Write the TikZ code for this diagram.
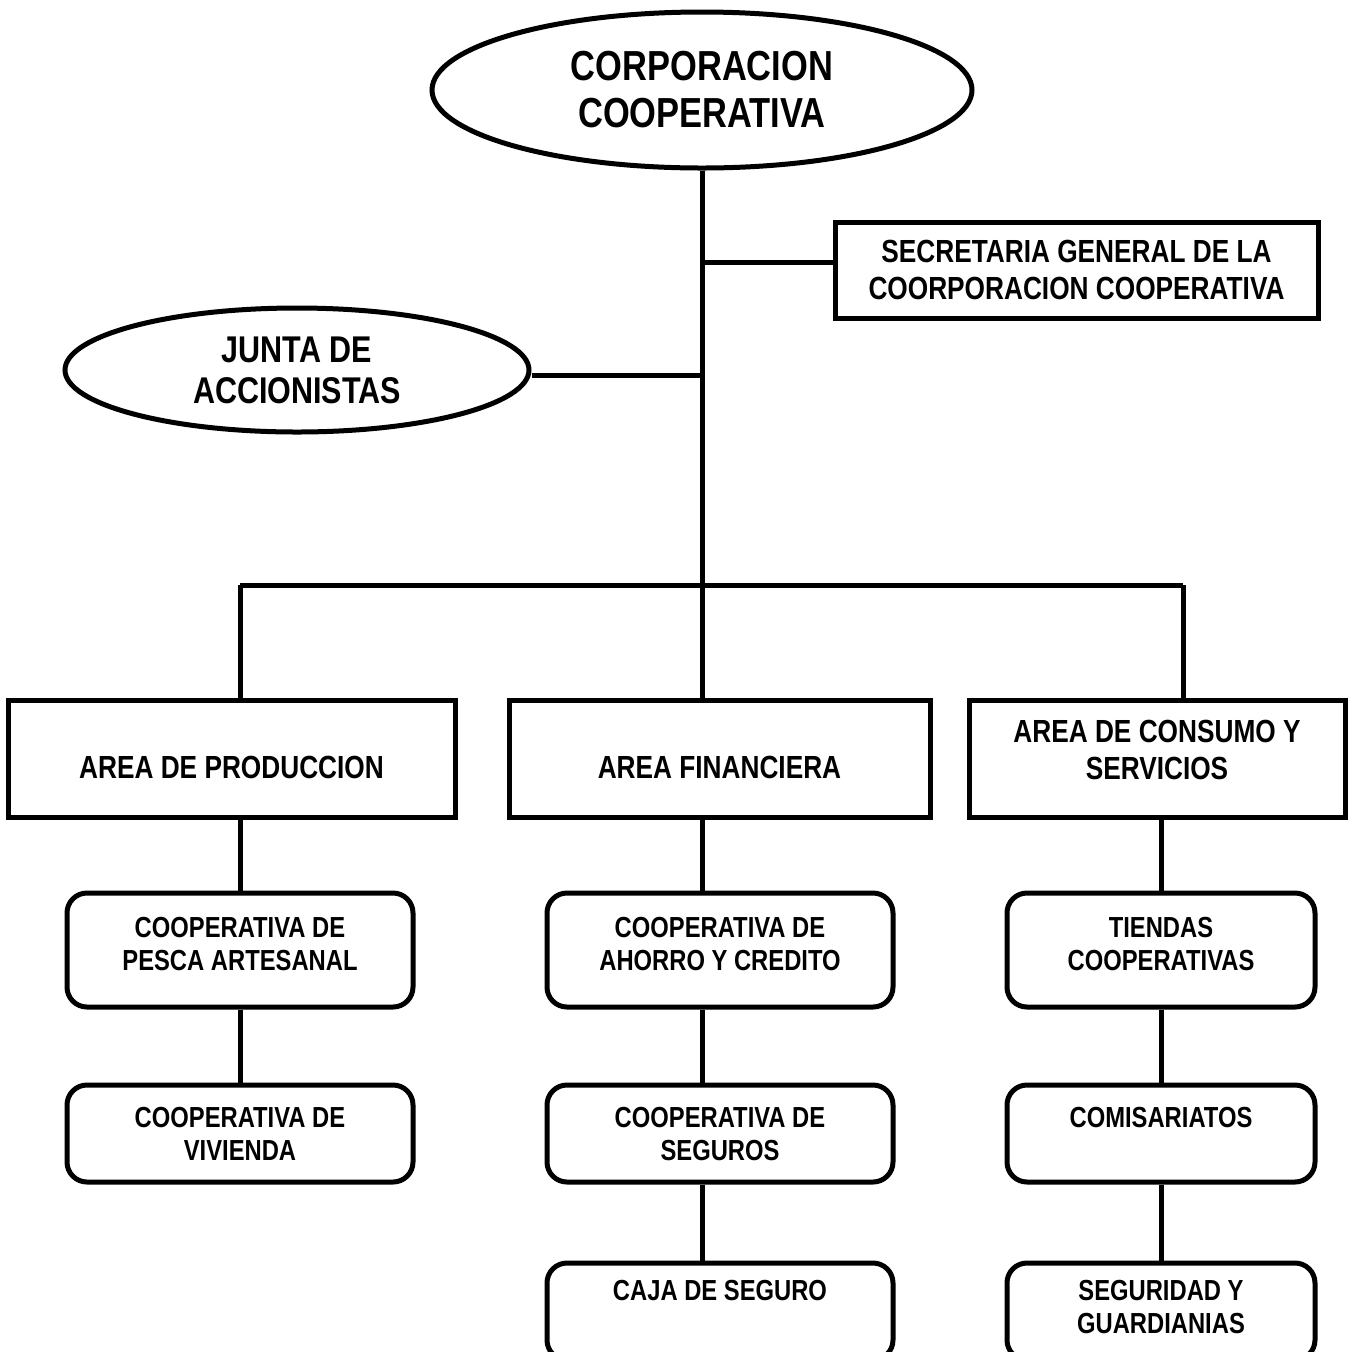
\documentclass[tikz,border=0pt]{standalone}
\usepackage{fontspec}
\setmainfont{Liberation Sans}[FakeStretch=0.82]
\usetikzlibrary{shapes.geometric}
\newcommand\mydepth[1]{\rule[-#1]{0pt}{#1}}
\begin{document}
\begin{tikzpicture}[x=0.5pt,y=-0.5pt,line width=2.5pt,
  every node/.style={font=\bfseries, align=center, inner sep=0pt},
  oval/.style={ellipse, draw},
  sqbox/.style={rectangle, draw},
  rbox/.style={rectangle, draw, rounded corners=10pt, minimum width=173pt,
    font=\bfseries\fontsize{14.5}{16.5}\selectfont},
  rowone/.style={minimum height=57pt},
  rowtwo/.style={minimum height=48.5pt},
  single/.style={text height=10.4pt, text depth=16.5pt},
  areabox/.style={rectangle, draw, minimum height=58.5pt,
    font=\bfseries\fontsize{16}{18.5}\selectfont},
  oneline/.style={text height=19.5pt, text depth=0pt}]
\useasboundingbox (0,0) rectangle (1356,1351);
% top level
\node[oval, minimum width=270pt, minimum height=78pt,
  font=\bfseries\fontsize{21}{23.5}\selectfont] (top) at (702,90)
  {CORPORACION\\COOPERATIVA};
\node[sqbox, minimum width=241.5pt, minimum height=48pt,
  font=\bfseries\fontsize{16}{18.5}\selectfont] (sec) at (1076.5,270)
  {SECRETARIA GENERAL DE LA\\COORPORACION COOPERATIVA};
\node[oval, minimum width=232pt, minimum height=62pt,
  font=\bfseries\fontsize{18.6}{20.5}\selectfont] (junta) at (297,370)
  {JUNTA DE\\ACCIONISTAS};
% bus
\coordinate (bus) at (702,585);
\coordinate (busL) at (240,585);
\coordinate (busR) at (1183,585);
% areas
\node[areabox, oneline, minimum width=223.5pt] (areaP) at (231.5,758.5) {AREA DE PRODUCCION};
\node[areabox, oneline, minimum width=210.5pt] (areaF) at (719.5,758.5) {AREA FINANCIERA};
\node[areabox, minimum width=188pt] (areaC) at (1157,758.5) {AREA DE CONSUMO Y\\SERVICIOS\mydepth{9pt}};
% production column
\node[rbox, rowone] (p1) at (240,950) {COOPERATIVA DE\\PESCA ARTESANAL\mydepth{6pt}};
\node[rbox, rowtwo] (p2) at (240,1133.5) {COOPERATIVA DE\\VIVIENDA};
% finance column
\node[rbox, rowone] (f1) at (720,950) {COOPERATIVA DE\\AHORRO Y CREDITO\mydepth{6pt}};
\node[rbox, rowtwo] (f2) at (720,1133.5) {COOPERATIVA DE\\SEGUROS};
\node[rbox, rowtwo, single, text depth=21.5pt] (f3) at (720,1311.5) {CAJA DE SEGURO};
% consumption column
\node[rbox, rowone, minimum width=154pt] (c1) at (1161,950) {TIENDAS\\COOPERATIVAS\mydepth{6pt}};
\node[rbox, rowtwo, single, minimum width=154pt] (c2) at (1161,1133.5) {COMISARIATOS};
\node[rbox, rowtwo, minimum width=154pt] (c3) at (1161,1311.5) {SEGURIDAD Y\\GUARDIANIAS\mydepth{5pt}};
% connectors
\draw (top.south) -- (bus);
\draw ([yshift=4pt]sec.west) -- ([yshift=4pt]sec.west -| bus);
\draw ([yshift=-2.5pt]junta.east) -- ([yshift=-2.5pt]junta.east -| bus);
\draw (busL) -- (busR);
\draw (busL) -- (busL |- areaP.north);
\draw (bus) -- (bus |- areaF.north);
\draw (busR) -- (busR |- areaC.north);
\draw (p1.north) -- (p1.north |- areaP.south);
\draw (p1.south) -- (p2.north);
\draw (bus |- areaF.south) -- (bus |- f1.north);
\draw (bus |- f1.south) -- (bus |- f2.north);
\draw (bus |- f2.south) -- (bus |- f3.north);
\draw (c1.north) -- (c1.north |- areaC.south);
\draw (c1.south) -- (c2.north);
\draw (c2.south) -- (c3.north);
\end{tikzpicture}
\end{document}
